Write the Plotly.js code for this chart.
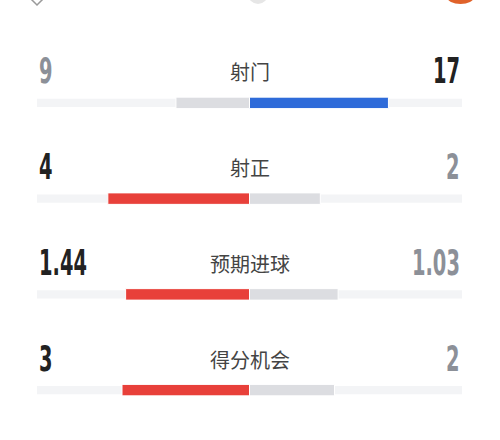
<!DOCTYPE html>
<html>
<head>
<meta charset="utf-8">
<script src="https://cdn.plot.ly/plotly-3.0.1.min.js"></script>
<style>
  body { margin: 0; background: #fff; }
  #graph { width: 500px; height: 440px; }
</style>
</head>
<body>
<div id="graph"></div>
<script>
// match stats, home on the left, away on the right
var labels = ['射门', '射正', '预期进球', '得分机会'];
var homeVals = [9, 4, 1.44, 3];
var awayVals = [17, 2, 1.03, 2];
var homeText = ['9', '4', '1.44', '3'];
var awayText = ['17', '2', '1.03', '2'];

var RED = '#e8403a', BLUE = '#2e6bd9', GREY = '#dcdde1', TRACK = '#f3f4f6';
var DARK = '#222222', LIGHT = '#8c9098';
var NUMFONT = 'DejaVu Sans Condensed, DejaVu Sans, sans-serif';

var rows = [];
var homeShare = [], awayShare = [], homeBase = [];
var homeColor = [], awayColor = [];
for (var i = 0; i < labels.length; i++) {
	rows.push(i);
	var tot = homeVals[i] + awayVals[i];
	homeShare[i] = homeVals[i] / tot;
	awayShare[i] = awayVals[i] / tot;
	homeBase[i] = -homeShare[i];
	homeColor[i] = homeVals[i] > awayVals[i] ? RED : GREY;
	awayColor[i] = awayVals[i] > homeVals[i] ? BLUE : GREY;
}

var track = {
	type: 'bar', orientation: 'h',
	y: rows, x: rows.map(function(){ return 2; }), base: rows.map(function(){ return -1; }),
	width: 0.085,
	marker: {color: TRACK},
	hoverinfo: 'skip'
};
var home = {
	type: 'bar', orientation: 'h',
	y: rows, x: homeShare, base: homeBase,
	width: 0.12,
	marker: {color: homeColor, line: {color: '#ffffff', width: 1}},
	hoverinfo: 'skip'
};
var away = {
	type: 'bar', orientation: 'h',
	y: rows, x: awayShare, base: rows.map(function(){ return 0; }),
	width: 0.12,
	marker: {color: awayColor, line: {color: '#ffffff', width: 1}},
	hoverinfo: 'skip'
};

var annotations = [];
for (var j = 0; j < labels.length; j++) {
	var homeWins = homeVals[j] > awayVals[j];
	annotations.push({
		x: -1, y: j, xref: 'x', yref: 'y', xanchor: 'left', yanchor: 'middle',
		yshift: 32, showarrow: false, text: homeText[j], name: 'num-left',
		font: {family: NUMFONT, size: 36, color: homeWins ? DARK : LIGHT, weight: 'bold'}
	});
	annotations.push({
		x: 1, y: j, xref: 'x', yref: 'y', xanchor: 'right', yanchor: 'middle',
		yshift: 32, showarrow: false, text: awayText[j], name: 'num-right',
		font: {family: NUMFONT, size: 36, color: homeWins ? LIGHT : DARK, weight: 'bold'}
	});
	annotations.push({
		x: 0, y: j, xref: 'x', yref: 'y', xanchor: 'center', yanchor: 'middle',
		yshift: 31, showarrow: false, text: labels[j],
		font: {family: 'Noto Sans CJK SC, sans-serif', size: 20, color: '#444444'}
	});
}

var layout = {
	width: 500, height: 440,
	margin: {l: 37, r: 38, t: 55, b: 2},
	paper_bgcolor: '#ffffff', plot_bgcolor: '#ffffff',
	barmode: 'overlay',
	showlegend: false,
	xaxis: {range: [-1, 1], visible: false, fixedrange: true},
	yaxis: {range: [3.5, -0.5], visible: false, fixedrange: true},
	annotations: annotations,
	shapes: [
		// cut-off team logos at the top edge
		{type: 'path', xref: 'paper', yref: 'paper', path: 'M -0.0165 1.1488 L 0 1.1305 L 0.0165 1.1488', line: {color: '#9a9a9a', width: 1.5}},
		{type: 'circle', xref: 'paper', yref: 'paper', x0: 0.4965, x1: 0.5435, y0: 1.1332, y1: 1.1854, fillcolor: '#e6e6e6', line: {width: 0}},
		{type: 'circle', xref: 'paper', yref: 'paper', x0: 0.9647, x1: 1.0282, y0: 1.1332, y1: 1.1697, fillcolor: '#e0622a', line: {width: 0}}
	]
};

Plotly.newPlot('graph', [track, home, away], layout, {displayModeBar: false, staticPlot: true}).then(function(gd){
	// squeeze the numbers to look like a condensed DIN face, keeping their outer edge fixed
	var groups = gd.querySelectorAll('.annotation');
	groups.forEach(function(g, k){
		var ann = layout.annotations[k];
		if (!ann || !ann.name) return;
		var t = g.querySelector('text');
		var bb = t.getBBox();
		var ax = ann.name === 'num-left' ? bb.x : bb.x + bb.width;
		t.setAttribute('transform', 'translate(' + ax + ',0) scale(0.6,1) translate(' + (-ax) + ',0)');
	});
});
</script>
</body>
</html>
